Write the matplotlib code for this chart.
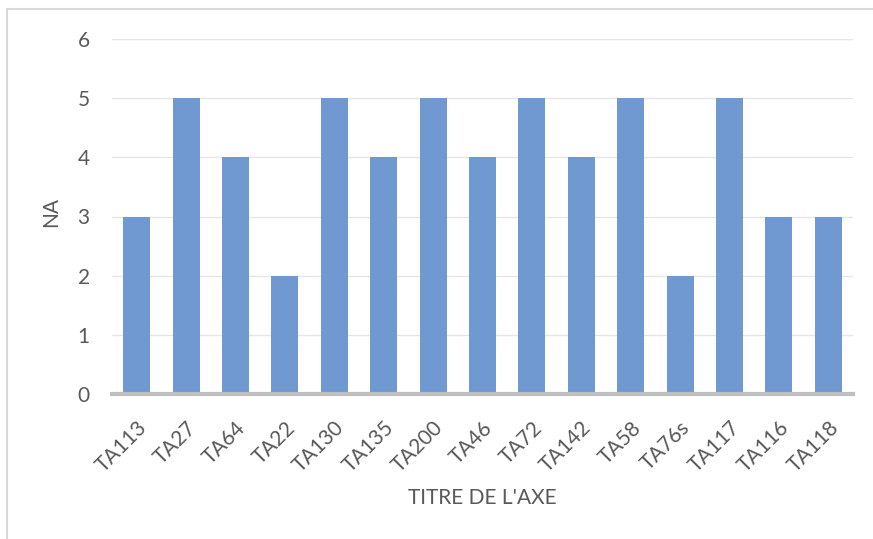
import matplotlib
matplotlib.use("Agg")
import matplotlib.pyplot as plt
from matplotlib.patches import Rectangle
from matplotlib.transforms import ScaledTranslation

categories = ["TA113", "TA27", "TA64", "TA22", "TA130", "TA135", "TA200", "TA46",
              "TA72", "TA142", "TA58", "TA76s", "TA117", "TA116", "TA118"]
values = [3, 5, 4, 2, 5, 4, 5, 4, 5, 4, 5, 2, 5, 3, 3]
y_ticks = [0, 1, 2, 3, 4, 5, 6]

plt.rcParams['font.family'] = ['Lato', 'DejaVu Sans']
text_color = "#595959"

W, H = 873, 539
fig = plt.figure(figsize=(W / 100, H / 100), dpi=100)
fig.patch.set_facecolor("white")

# chart frame: only top and left edges fall inside the canvas
fig.patches.append(Rectangle((7 / W, -0.1), 1.2, 1.1 - 9 / H, transform=fig.transFigure,
                             fill=False, edgecolor="#d9d9d9", linewidth=1.5, zorder=0))

left, right = 112 / W, 853 / W
bottom, top = 1 - 394 / H, 1 - 39 / H
ax = fig.add_axes([left, bottom, right - left, top - bottom])

x = range(len(categories))
ax.bar(x, values, width=0.55, color="#7199d1", zorder=2)

ax.set_xlim(-0.5, len(categories) - 0.5)
ax.set_ylim(0, 6)
ax.set_yticks(y_ticks)
ax.set_yticklabels([str(t) for t in y_ticks], fontsize=15, color=text_color)
ax.yaxis.grid(True, color="#e6e6e6", linewidth=1)
ax.set_axisbelow(True)

ax.set_xticks(list(x))
ax.set_xticklabels(categories, rotation=45, ha="right", rotation_mode="anchor",
                   fontsize=15, color=text_color)
shift = ScaledTranslation(4 / 100, 0, fig.dpi_scale_trans)
for lbl in ax.get_xticklabels():
    lbl.set_transform(lbl.get_transform() + shift)
ax.tick_params(axis="both", length=0)
ax.tick_params(axis="y", pad=16)
ax.tick_params(axis="x", pad=17)

for s in ["top", "right", "left"]:
    ax.spines[s].set_visible(False)
ax.spines["bottom"].set_color("#bfbfbf")
ax.spines["bottom"].set_linewidth(3)
ax.spines["bottom"].set_zorder(3)

fig.text(51 / W, 1 - 212 / H, "NA", rotation=90, ha="center", va="center",
         fontsize=15, color=text_color)
fig.text(482 / W, 1 - 498 / H, "TITRE DE L'AXE", ha="center", va="center",
         fontsize=15, color=text_color)

fig.savefig("out.png", dpi=100, facecolor="white")
